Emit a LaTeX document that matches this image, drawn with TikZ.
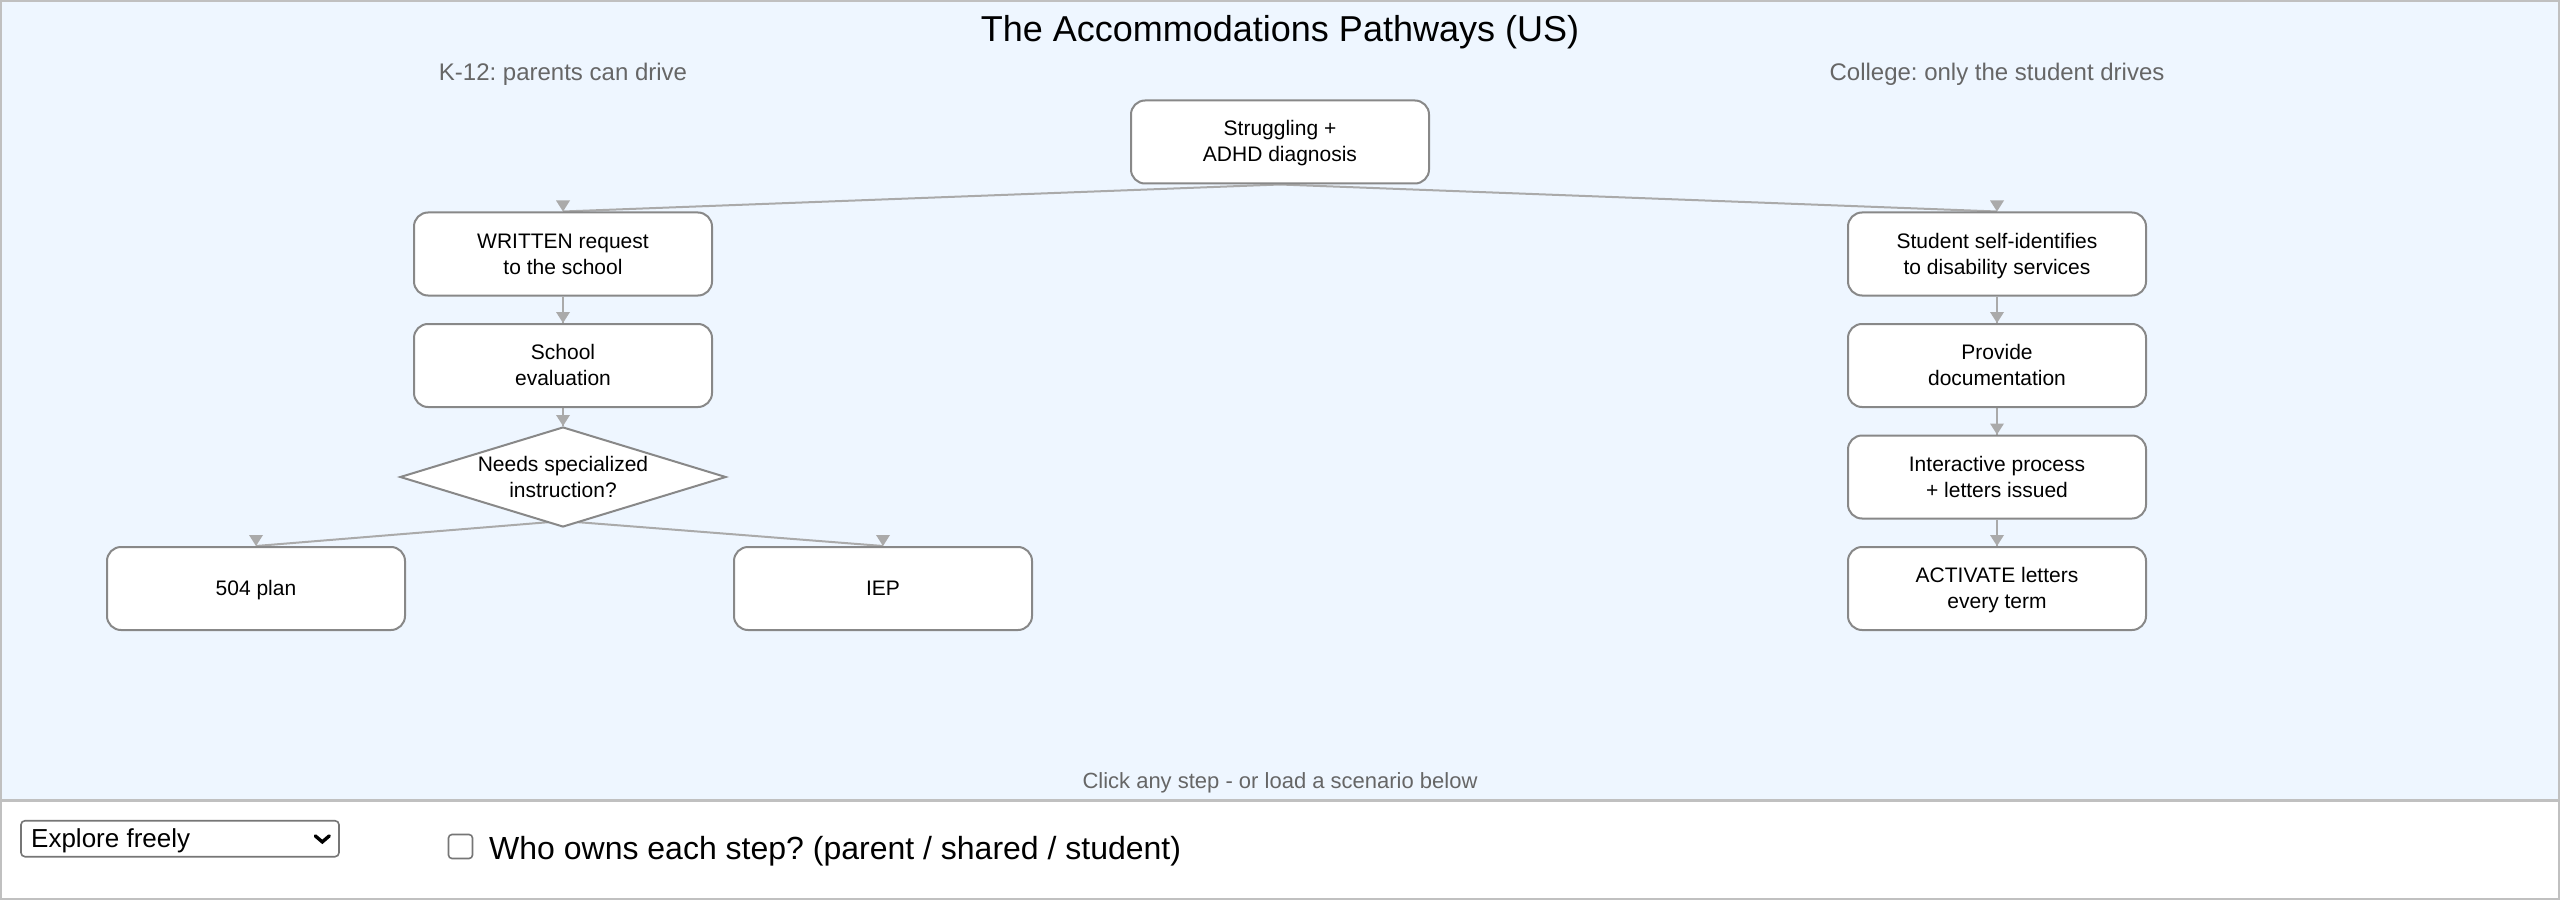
\documentclass[tikz,border=0pt]{standalone}
\usepackage{fontspec}
\setmainfont{Liberation Sans}
\frenchspacing
\usetikzlibrary{shapes.geometric,calc}
\definecolor{panelbg}{RGB}{238,246,255}
\definecolor{frame}{RGB}{192,192,192}
\definecolor{edgegrey}{RGB}{170,170,170}
\definecolor{boxgrey}{RGB}{136,136,136}
\definecolor{labelgrey}{RGB}{102,102,102}
\definecolor{ctrlgrey}{RGB}{118,118,118}
\pgfdeclarelayer{bglayer}
\pgfdeclarelayer{edgelayer}
\pgfsetlayers{bglayer,edgelayer,main}
\newcommand{\lnst}{\rule[-6pt]{0pt}{26pt}}
\tikzset{
  stepbox/.style={draw=boxgrey, line width=2pt, fill=white, rounded corners=14pt,
    minimum width=298pt, minimum height=83pt, inner sep=0pt, align=center,
    font=\fontsize{21}{26}\selectfont},
  decision/.style={diamond, draw=boxgrey, line width=2pt, fill=white,
    minimum width=326pt, minimum height=100pt, inner sep=0pt},
  flow/.style={draw=edgegrey, line width=2pt},
  tipmark/.style={fill=edgegrey},
  sidelabel/.style={text=labelgrey, font=\fontsize{24}{28}\selectfont, anchor=base},
}
\newcommand{\downtip}[1]{\fill[tipmark] (#1) -- ++(-7,-11) -- ++(14,0) -- cycle;}
\begin{document}
\begin{tikzpicture}[x=1pt,y=-1pt]
\useasboundingbox (0,0) rectangle (2560,904);
\begin{pgfonlayer}{bglayer}
  \fill[panelbg] (0,0) rectangle (2560,800);
  \fill[white] (0,800) rectangle (2560,904);
  \draw[frame, line width=3pt] (0,800) -- (2560,800);
  \draw[frame, line width=2pt] (1,1) rectangle (2559,899);
\end{pgfonlayer}

% titles
\node[font=\fontsize{36}{43}\selectfont, anchor=base] (title) at (1280,42) {The Accommodations Pathways (US)};
\node[sidelabel] (k12) at (563,80.5) {K-12: parents can drive};
\node[sidelabel] (coll) at (1997,80.5) {College: only the student drives};
\node[text=labelgrey, font=\fontsize{22}{26}\selectfont, anchor=base] (hint) at (1280,788) {Click any step - or load a scenario below};

% nodes
\node[stepbox] (start) at (1280,142) {\lnst Struggling +\\ADHD diagnosis\lnst};
\node[stepbox] (w1) at (563,254) {\lnst WRITTEN request\\to the school\lnst};
\node[stepbox] (w2) at (563,365.5) {\lnst School\\evaluation\lnst};
\node[decision] (dia) at (563,477) {};
\node[align=center, font=\fontsize{21}{26}\selectfont, inner sep=0pt] (diatext) at (dia.center) {\lnst Needs specialized\\instruction?\lnst};
\node[stepbox] (plan) at (256,588.5) {\lnst 504 plan};
\node[stepbox] (iep) at (883,588.5) {\lnst IEP};
\node[stepbox] (c1) at (1997,254) {\lnst Student self-identifies\\to disability services\lnst};
\node[stepbox] (c2) at (1997,365.5) {\lnst Provide\\documentation\lnst};
\node[stepbox] (c3) at (1997,477) {\lnst Interactive process\\+ letters issued\lnst};
\node[stepbox] (c4) at (1997,588.5) {\lnst ACTIVATE letters\\every term\lnst};

% connectors
\begin{pgfonlayer}{edgelayer}
  \draw[flow] (start.south) -- (w1.north);
  \draw[flow] (start.south) -- (c1.north);
  \draw[flow] (w1.south) -- (w2.north);
  \draw[flow] (w2.south) -- (dia.north);
  \draw[flow] ($(dia.south)+(0,-7)$) -- (plan.north);
  \draw[flow] ($(dia.south)+(0,-7)$) -- (iep.north);
  \draw[flow] (c1.south) -- (c2.north);
  \draw[flow] (c2.south) -- (c3.north);
  \draw[flow] (c3.south) -- (c4.north);
\end{pgfonlayer}
\downtip{w1.north}
\downtip{c1.north}
\downtip{w2.north}
\downtip{dia.north}
\downtip{plan.north}
\downtip{iep.north}
\downtip{c2.north}
\downtip{c3.north}
\downtip{c4.north}

% controls
\node[draw=ctrlgrey, line width=1.6pt, rounded corners=4pt, minimum width=318pt, minimum height=36pt, inner sep=0pt] (select) at (180,838.7) {};
\node[anchor=base west, font=\fontsize{26}{30}\selectfont, inner sep=0pt] (seltext) at (31,847.3) {Explore freely};
\draw[line width=3.4pt, line cap=round, line join=miter] ($(select.east)+(-24.5,-2.8)$) -- ++(7,6) -- ++(7,-6);
\node[draw=ctrlgrey, line width=1.6pt, rounded corners=3.5pt, minimum width=24pt, minimum height=24pt, inner sep=0pt, fill=white] (chk) at (460.5,846.5) {};
\node[anchor=base west, font=\fontsize{32}{38}\selectfont, inner sep=0pt] (chktext) at (489,859) {Who owns each step? (parent / shared / student)};
\end{tikzpicture}
\end{document}
